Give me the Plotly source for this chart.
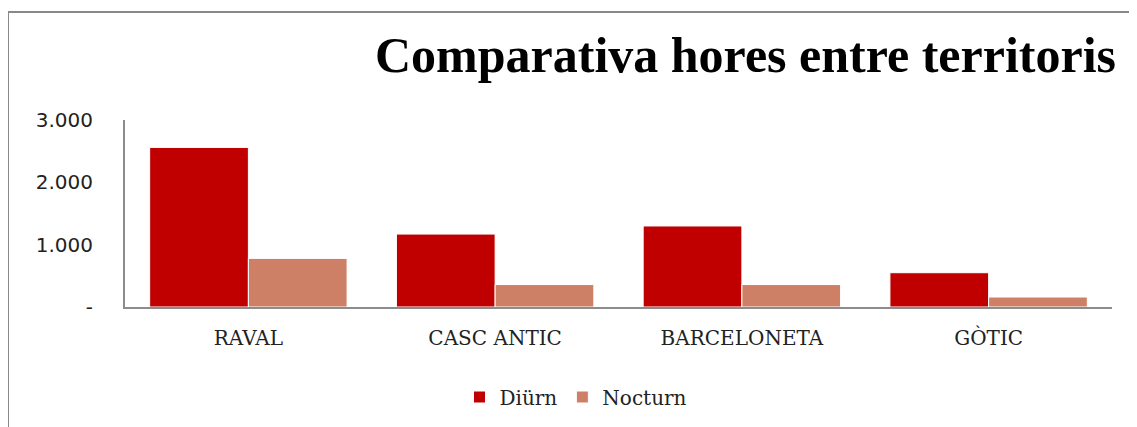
import plotly.graph_objects as go

categories = ["RAVAL", "CASC ANTIC", "BARCELONETA", "GÒTIC"]
diurn = [2560, 1170, 1300, 550]
nocturn = [780, 360, 360, 160]
series_names = ["Diürn", "Nocturn"]
y_tickvals = [0, 1000, 2000, 3000]
y_ticktext = ["-", "1.000", "2.000", "3.000"]
title_text = "Comparativa hores entre territoris"

W, H = 1137, 427
OFF = 8  # page body margin
# plot area in page pixels: x 125..1112, y 120..307
L = 125 - OFF
T = 120 - OFF
R = W - (1112 - OFF)
B = H - (307 - OFF)
pw = W - L - R
ph = H - T - B

def px_x(p):
    return (p - OFF - L) / pw

def px_y(p):
    return (H - B - (p - OFF)) / ph

fig = go.Figure()
fig.add_trace(go.Bar(x=categories, y=diurn, name=series_names[0],
                     marker=dict(color="#C00000", line=dict(color="white", width=1))))
fig.add_trace(go.Bar(x=categories, y=nocturn, name=series_names[1],
                     marker=dict(color="#CD8066", line=dict(color="white", width=1))))

fig.update_layout(
    width=W, height=H,
    margin=dict(l=L, r=R, t=T, b=B),
    paper_bgcolor="white", plot_bgcolor="white",
    barmode="group", bargap=0.2, bargroupgap=0,
    showlegend=True,
    legend=dict(orientation="h", x=px_x(576), xanchor="center", y=px_y(397), yanchor="middle",
                font=dict(family="DejaVu Serif", size=20, color="#222222"),
                itemwidth=30, traceorder="normal"),
    font=dict(family="DejaVu Sans", color="#333333"),
)
fig.update_xaxes(showline=True, linecolor="#8c8c8c", linewidth=2, ticks="",
                 tickfont=dict(family="DejaVu Serif", size=20, color="#222222"),
                 ticklabelstandoff=12)
fig.update_yaxes(range=[0, 3000], tickvals=y_tickvals, ticktext=y_ticktext,
                 showgrid=False, zeroline=False, showline=True, linecolor="#8c8c8c", linewidth=2,
                 ticks="", tickfont=dict(family="DejaVu Sans", size=20, color="#222222"),
                 ticklabelstandoff=26)

fig.add_annotation(text="<b>" + title_text + "</b>", xref="paper", yref="paper",
                   x=px_x(373), xanchor="left", y=px_y(55), yanchor="middle",
                   showarrow=False, font=dict(family="Liberation Serif", size=50, color="#000000"))

# outer chart-area border (left and top visible)
fig.add_shape(type="line", xref="paper", yref="paper",
              x0=px_x(8), y0=px_y(12), x1=px_x(8), y1=px_y(H + 20),
              line=dict(color="#898989", width=2))
fig.add_shape(type="line", xref="paper", yref="paper",
              x0=px_x(8), y0=px_y(12), x1=px_x(W + 20), y1=px_y(12),
              line=dict(color="#898989", width=2))

fig.write_html("out.html")
